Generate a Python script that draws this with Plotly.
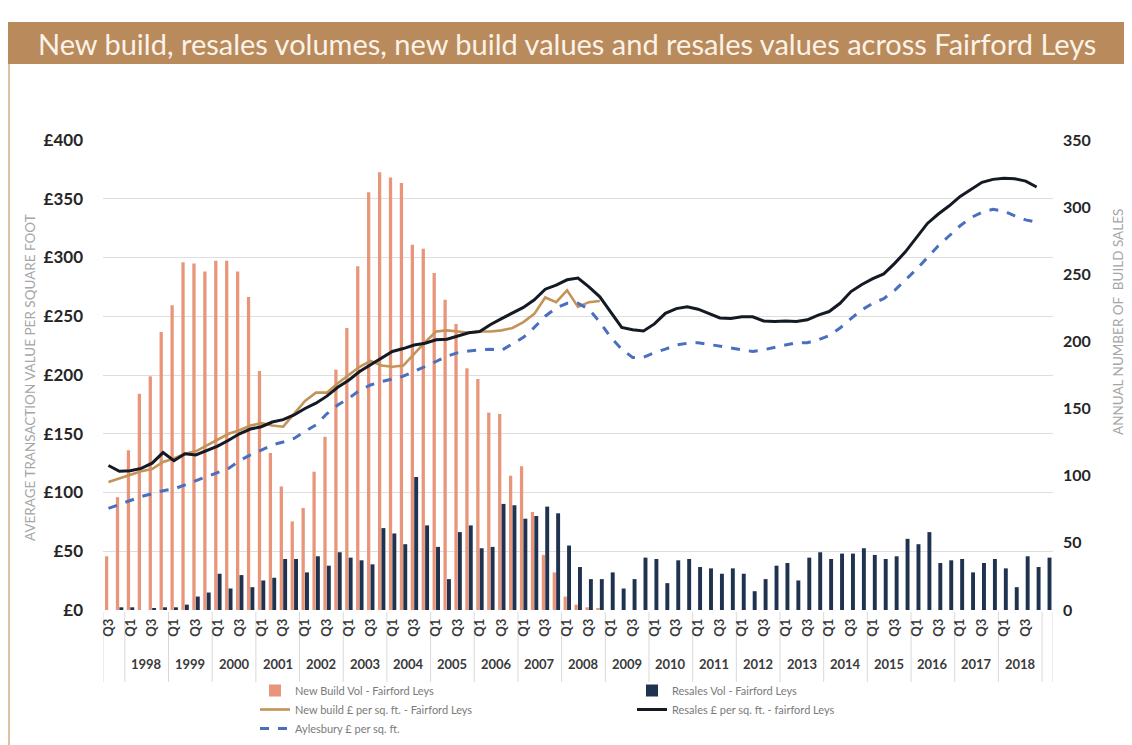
import plotly.graph_objects as go

# ---------------- data ----------------
quarter_names = ["Q3", "Q4"] + ["Q1", "Q2", "Q3", "Q4"] * 21 + ["Q1"]
quarter_years = [1997] * 2 + [y for y in range(1998, 2019) for _ in range(4)] + [2019]
categories = [f"{y} {q}" for y, q in zip(quarter_years, quarter_names)]
year_labels = ["1998", "1999", "2000", "2001", "2002", "2003", "2004", "2005", "2006",
               "2007", "2008", "2009", "2010", "2011", "2012", "2013", "2014", "2015",
               "2016", "2017", "2018"]

new_build_vol = [40, 84, 119, 161, 174, 207, 227, 259, 258, 252, 260, 260, 252, 233, 178, 117,
                 92, 66, 76, 103, 129, 179, 210, 256, 311, 326, 322, 318, 272, 269, 251, 231,
                 213, 180, 172, 147, 146, 100, 107, 73, 41, 28, 10, 4, 2, 1] + [None] * 41

resales_vol = [0, 2, 2, 0, 1, 2, 2, 4, 10, 13, 27, 16, 26, 17, 22, 24,
               38, 38, 28, 40, 33, 43, 39, 37, 34, 61, 57, 49, 99, 63, 47, 23,
               58, 63, 46, 47, 79, 78, 68, 70, 77, 72, 48, 32, 23, 23, 28, 16,
               23, 39, 38, 20, 37, 38, 32, 31, 27, 31, 27, 14, 23, 33, 35, 22,
               39, 43, 38, 42, 42, 46, 41, 38, 40, 53, 49, 58, 35, 37, 38, 28,
               35, 38, 31, 17, 40, 32, 39]

new_build_psf = [109, 112, 115, 118, 120, 126, 129, 133, 135, 140, 145, 150, 153, 157, 159, 157,
                 156, 167, 178, 185, 185, 193, 200, 207, 212, 208, 207, 208, 218, 228, 237, 238,
                 237, 236, 237, 237, 238, 240, 245, 252, 266, 262, 272, 258, 262, 263] + [None] * 41

resales_psf = [123, 118, 118.5, 120.5, 125, 134, 127, 133, 132, 136, 139.5, 144.5, 150, 154, 156, 160,
               162, 166, 171.5, 176, 182, 189.5, 195.5, 203, 208.5, 214, 220, 222.5, 225.5, 227, 230, 230.5,
               233, 236, 237, 243, 248, 253, 257.5, 264, 273, 276.5, 281, 282.5, 275, 266.5, 254, 240.5,
               238.5, 237.5, 243.5, 252.5, 256.5, 258, 256, 252.5, 248.5, 248, 249.5, 249.5, 246, 245.5,
               246, 245.5, 247, 251, 254, 261, 271, 277, 282, 286, 295, 305, 317, 329,
               337, 344, 352, 358, 364, 366.5, 367.5, 367, 365, 360, None]

aylesbury_psf = [86.5, 90, 93.5, 96.5, 99, 101.5, 103, 106.5, 110, 113.5, 117, 120.5, 127, 132, 136, 140.5,
                 143, 146, 152, 157.5, 167, 174.5, 180, 187, 191.5, 194.5, 196.5, 199, 203, 207, 211.5, 216,
                 219, 220.5, 221.5, 222, 221, 226.5, 232, 240.5, 250, 257, 261, 261, 256, 245, 232, 222,
                 215, 215, 219, 222, 225.5, 227, 227.5, 226, 224.5, 222.5, 221, 220, 221.5, 223.5,
                 226, 227.5, 227.5, 230, 233.5, 240, 248, 255.5, 261, 265, 272, 281, 290, 300,
                 310, 318.5, 327, 334, 338.5, 341, 339.5, 335.5, 332, 330, None]

left_ticks = [0, 50, 100, 150, 200, 250, 300, 350, 400]
right_ticks = [0, 50, 100, 150, 200, 250, 300, 350]

# ---------------- styling ----------------
ORANGE_BAR = "#E8957A"
NAVY_BAR = "#1F3350"
TAN_LINE = "#C49358"
BLACK_LINE = "#141A24"
BLUE_DASH = "#4B6FC0"
BAND = "#B98A5C"
FONT = "Lato"

# the page has an 8px body margin; the figure is sized to fill the rest of the window
OFF = 8
VIEW_W, VIEW_H = 1132, 745
W, H = VIEW_W - OFF, VIEW_H - OFF
PLOT_L, PLOT_R, PLOT_T, PLOT_B = 103, 1053, 140, 610   # in window pixels
ML, MR, MT, MB = PLOT_L - OFF, VIEW_W - PLOT_R, PLOT_T - OFF, VIEW_H - PLOT_B
PW, PH = PLOT_R - PLOT_L, PLOT_B - PLOT_T


def px_to_paper_x(px):
    return (px - PLOT_L) / PW


def px_to_paper_y(py):
    return (PLOT_B - py) / PH


fig = go.Figure()

fig.add_trace(go.Bar(
    x=categories, y=new_build_vol, name="New Build Vol - Fairford Leys",
    marker=dict(color=ORANGE_BAR, line=dict(width=0)),
    width=0.3, offset=-0.32, yaxis="y",
))
fig.add_trace(go.Bar(
    x=categories, y=resales_vol, name="Resales Vol - Fairford Leys",
    marker=dict(color=NAVY_BAR, line=dict(width=0)),
    width=0.36, offset=0.0, yaxis="y",
))
fig.add_trace(go.Scatter(
    x=categories, y=new_build_psf, name="New build £ per sq. ft. - Fairford Leys",
    mode="lines", line=dict(color=TAN_LINE, width=2.6), yaxis="y2", connectgaps=False,
))
fig.add_trace(go.Scatter(
    x=categories, y=resales_psf, name="Resales £ per sq. ft. - fairford Leys",
    mode="lines", line=dict(color=BLACK_LINE, width=3), yaxis="y2", connectgaps=False,
))
fig.add_trace(go.Scatter(
    x=categories, y=aylesbury_psf, name="Aylesbury £ per sq. ft.",
    mode="lines", line=dict(color=BLUE_DASH, width=3, dash="dash"), yaxis="y2", connectgaps=False,
))

# tick labels: every other quarter, Q3/Q1
tick_idx = [i for i in range(0, len(categories) - 1, 2)]
tickvals = [categories[i] for i in tick_idx]
ticktext = [quarter_names[i] for i in tick_idx]

shapes = []
annotations = []

# year group dividers + year labels
boundaries = [-0.5]
for i in range(1, len(categories)):
    if quarter_years[i] != quarter_years[i - 1]:
        boundaries.append(i - 0.5)
boundaries.append(len(categories) - 0.5)
for b in boundaries:
    shapes.append(dict(type="line", xref="x", yref="paper", x0=b, x1=b,
                       y0=px_to_paper_y(612), y1=px_to_paper_y(682),
                       line=dict(color="#D9D9D9", width=1), layer="below"))
for lab in year_labels:
    idxs = [i for i, y in enumerate(quarter_years) if str(y) == lab]
    center = (idxs[0] + idxs[-1]) / 2
    annotations.append(dict(x=center, y=px_to_paper_y(664), xref="x", yref="paper",
                            text=f"<b>{lab}</b>", showarrow=False,
                            font=dict(family=FONT, size=13, color="#3A3A3A"),
                            xanchor="center", yanchor="middle"))

# title band
shapes.append(dict(type="rect", xref="paper", yref="paper",
                   x0=px_to_paper_x(OFF), x1=px_to_paper_x(VIEW_W),
                   y0=px_to_paper_y(64), y1=px_to_paper_y(22),
                   fillcolor=BAND, line=dict(width=0), layer="below"))
# frame line on left
shapes.append(dict(type="line", xref="paper", yref="paper",
                   x0=px_to_paper_x(OFF + 1), x1=px_to_paper_x(OFF + 1),
                   y0=px_to_paper_y(64), y1=px_to_paper_y(VIEW_H),
                   line=dict(color="#D2AE86", width=1.5), layer="below"))

annotations.append(dict(x=px_to_paper_x(567), y=px_to_paper_y(43), xref="paper", yref="paper",
                        text="New build, resales volumes, new build values and resales values across Fairford Leys",
                        showarrow=False, font=dict(family=FONT, size=29, color="#FBF3E8"),
                        xanchor="center", yanchor="middle"))
annotations.append(dict(x=px_to_paper_x(30), y=px_to_paper_y(378), xref="paper", yref="paper",
                        text="AVERAGE TRANSACTION VALUE PER SQUARE FOOT", textangle=-90,
                        showarrow=False, font=dict(family=FONT, size=13.5, color="#A6A6A6"),
                        xanchor="center", yanchor="middle"))
annotations.append(dict(x=px_to_paper_x(1118), y=px_to_paper_y(322), xref="paper", yref="paper",
                        text="ANNUAL NUMBER OF  BUILD SALES", textangle=-90,
                        showarrow=False, font=dict(family=FONT, size=13.5, color="#A6A6A6"),
                        xanchor="center", yanchor="middle"))

fig.update_layout(
    width=W, height=H,
    margin=dict(l=ML, r=MR, t=MT, b=MB, autoexpand=False),
    paper_bgcolor="white", plot_bgcolor="white",
    barmode="overlay",
    showlegend=True,
    legend=dict(orientation="h", xref="container", yref="container",
                x=(255 - OFF) / W, y=1 - (676 - OFF) / H,
                xanchor="left", yanchor="top", traceorder="normal",
                entrywidth=332, entrywidthmode="pixels",
                font=dict(family=FONT, size=11, color="#7A7A7A"),
                itemwidth=30, tracegroupgap=0, bgcolor="rgba(0,0,0,0)"),
    xaxis=dict(type="category", categoryorder="array", categoryarray=categories,
               range=[-0.5, len(categories) - 0.5],
               tickmode="array", tickvals=tickvals, ticktext=ticktext, tickangle=-90,
               tickfont=dict(family=FONT, size=13, color="#3A3A3A", weight="bold"),
               ticklabelstandoff=5,
               showgrid=False, zeroline=False, showline=False, ticks=""),
    yaxis=dict(side="right", range=[0, 350], tickmode="array", tickvals=right_ticks,
               showgrid=False, zeroline=False, showline=False,
               tickfont=dict(family=FONT, size=16, color="#262626", weight="bold"),
               ticklabelstandoff=9),
    yaxis2=dict(side="left", overlaying="y", range=[0, 400], tickmode="array",
                tickvals=left_ticks, ticktext=[f"£{v}" for v in left_ticks],
                showgrid=True, gridcolor="#DEDEDE", gridwidth=1, zeroline=False, showline=False,
                tickfont=dict(family=FONT, size=17, color="#262626", weight="bold"),
                ticklabelstandoff=19),
    shapes=shapes,
    annotations=annotations,
)

fig.write_html("out.html")
